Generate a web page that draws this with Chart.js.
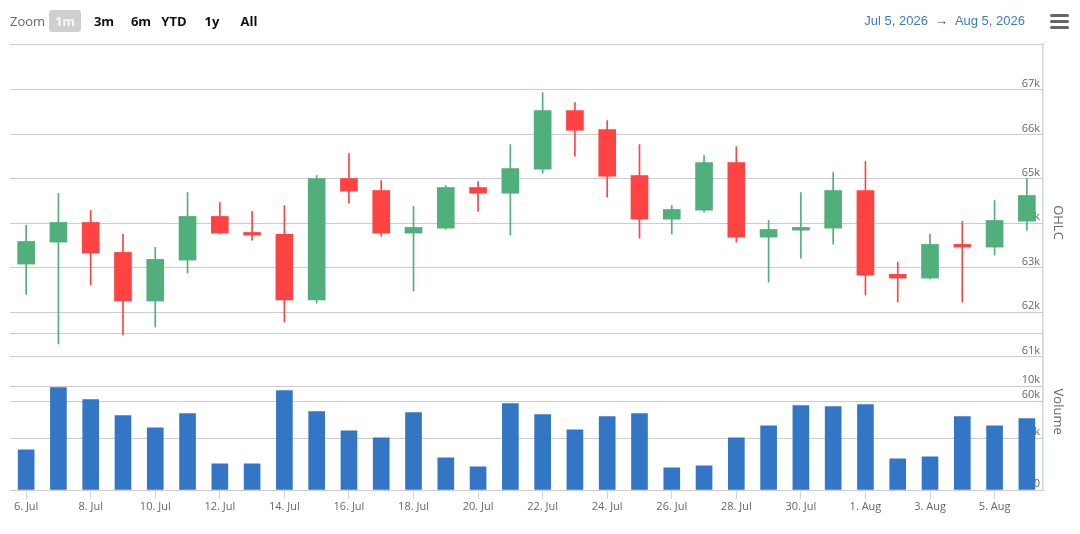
<!DOCTYPE html>
<html>
<head>
<meta charset="utf-8">
<script src="https://cdn.jsdelivr.net/npm/chart.js@4.4.1/dist/chart.umd.min.js"></script>
<style>
  body { margin: 0; background: #fff; font-family: "Open Sans", sans-serif; }
  #wrap { position: relative; width: 1080px; height: 534px; overflow: hidden; }
  #chart { position: absolute; left: 0; top: 0; }
  .tb { position: absolute; top: 0; height: 42px; line-height: 42px; font-size: 13px; white-space: nowrap; }
  #zoomLbl { left: 10px; color: #666; }
  .btn { position: absolute; top: 10px; width: 32px; height: 22px; line-height: 22px; text-align: center;
         font-size: 13px; font-weight: 700; color: #111; border-radius: 3px; }
  .btn.sel { background: #cfcfcf; color: #f8f8f8; }
  #range { right: 55px; font-family: "Liberation Sans", Arial, sans-serif; color: #3a7bd0; }
  #range .arr { color: #444; margin: 0 7px; }
  #menu { position: absolute; left: 1050px; top: 14px; width: 19px; }
  #menu div { height: 3px; background: #666; border-radius: 1.5px; margin-bottom: 3px; }
</style>
</head>
<body>
<div id="wrap">
  <canvas id="chart" width="1080" height="534"></canvas>
  <div class="tb" id="zoomLbl">Zoom</div>
  <div class="btn sel" style="left:49px">1m</div>
  <div class="btn" style="left:88px">3m</div>
  <div class="btn" style="left:125px">6m</div>
  <div class="btn" style="left:158px">YTD</div>
  <div class="btn" style="left:196px">1y</div>
  <div class="btn" style="left:233px">All</div>
  <div class="tb" id="range"><span>Jul 5, 2026</span><span class="arr">→</span><span>Aug 5, 2026</span></div>
  <div id="menu"><div></div><div></div><div></div></div>
</div>
<script>
const categories = ['6. Jul', '7. Jul', '8. Jul', '9. Jul', '10. Jul', '11. Jul', '12. Jul', '13. Jul',
  '14. Jul', '15. Jul', '16. Jul', '17. Jul', '18. Jul', '19. Jul', '20. Jul', '21. Jul', '22. Jul',
  '23. Jul', '24. Jul', '25. Jul', '26. Jul', '27. Jul', '28. Jul', '29. Jul', '30. Jul', '31. Jul',
  '1. Aug', '2. Aug', '3. Aug', '4. Aug', '5. Aug', '6. Aug'];

const opens  = [63081, 63575, 64018, 63344, 62249, 63171, 64153, 63793, 63748, 62272, 65007, 64737, 63778, 63890, 64804, 64676,
                65216, 66535, 66108, 65074, 64092, 64294, 65366, 63688, 63845, 63890, 64737, 62849, 62766, 63524, 63463, 64047];
const highs  = [63951, 64670, 64288, 63748, 63456, 64692, 64467, 64265, 64400, 65074, 65569, 64962, 64378, 64849, 64939, 65771,
                66939, 66715, 66310, 65771, 64400, 65524, 65726, 64063, 64692, 65142, 65389, 63126, 63748, 64040, 64512, 65007];
const lows   = [62400, 61283, 62609, 61485, 61665, 62879, 63760, 63620, 61778, 62204, 64452, 63710, 62474, 63867, 64265, 63733,
                65126, 65508, 64587, 63665, 63755, 64249, 63575, 62676, 63216, 63530, 62384, 62227, 62750, 62227, 63283, 63845];
const closes = [63591, 64018, 63328, 62249, 63187, 64153, 63778, 63733, 62272, 65007, 64721, 63778, 63906, 64804, 64676, 65231,
                66535, 66092, 65058, 64092, 64310, 65366, 63688, 63861, 63906, 64737, 62834, 62766, 63524, 63463, 64063, 64625];
const volumes = [3871, 9871, 8710, 7161, 6000, 7355, 2516, 2516, 9581, 7548, 5710, 5032, 7452, 3097, 2226, 8323,
                 7258, 5806, 7065, 7355, 2129, 2323, 5032, 6194, 8129, 8032, 8226, 3000, 3194, 7065, 6194, 6871];

// axis ticks (the top value of each pane only draws its border line)
const priceMin = 60000, priceMax = 68034;
const priceTicks = [60000, 61000, 62000, 63000, 64000, 65000, 66000, 67000, 68034];
const priceTickLabels = ['60k', '61k', '62k', '63k', '64k', '65k', '66k', '67k', ''];
const volumeMax = 15100;
const volumeTicks = [0, 5000, 10000, 15100];
const volumeTickLabels = ['0', '5k', '10k', ''];

const UP = '#51af7b', DOWN = '#ff4242', GRID = '#cccccc', AXIS = '#ccd6eb', TEXT = '#666666';
const candleColor = ctx => closes[ctx.dataIndex] >= opens[ctx.dataIndex] ? UP : DOWN;

Chart.defaults.font.family = '"Open Sans", sans-serif';

// Price pane and volume pane overlap a little, like the original layout
const paneLayout = {
  id: 'paneLayout',
  afterLayout(chart) {
    const area = chart.chartArea;
    const price = chart.scales.y, vol = chart.scales.vol;
    price.top = area.top;
    price.bottom = area.top + 357;
    price.height = 357;
    vol.left = price.left;
    vol.right = price.right;
    vol.width = price.width;
    vol.top = area.bottom - 156.7;
    vol.bottom = area.bottom;
    vol.height = 156.7;
    price.configure();
    vol.configure();
  }
};

new Chart(document.getElementById('chart'), {
  type: 'bar',
  data: {
    labels: categories,
    datasets: [
      {
        label: 'Body',
        data: categories.map((c, i) => [opens[i], closes[i]]),
        backgroundColor: candleColor,
        barThickness: 17,
        grouped: false,
        order: 0,
        yAxisID: 'y'
      },
      {
        label: 'Wick',
        data: categories.map((c, i) => [lows[i], highs[i]]),
        backgroundColor: candleColor,
        barThickness: 1,
        grouped: false,
        order: 1,
        yAxisID: 'y'
      },
      {
        label: 'Volume',
        data: volumes,
        backgroundColor: '#3476c6',
        barThickness: 16,
        grouped: false,
        order: 2,
        yAxisID: 'vol'
      }
    ]
  },
  options: {
    responsive: false,
    animation: false,
    layout: { padding: { top: 44, left: 10, right: 0, bottom: 0 } },
    plugins: { legend: { display: false }, tooltip: { enabled: false } },
    scales: {
      x: {
        offset: true,
        afterFit: s => { s.height = 44; },
        grid: {
          offset: false,
          drawOnChartArea: false,
          tickLength: 9,
          color: ctx => ctx.index % 2 === 0 ? AXIS : 'rgba(0,0,0,0)'
        },
        border: { color: GRID },
        ticks: {
          autoSkip: false,
          maxRotation: 0,
          padding: 1,
          color: TEXT,
          font: { size: 11 },
          callback: (v, i) => i % 2 === 0 ? categories[i] : ''
        }
      },
      y: {
        position: 'right',
        min: priceMin,
        max: priceMax,
        afterFit: s => { s.width = 37; },
        afterBuildTicks: s => { s.ticks = priceTicks.map(v => ({ value: v })); },
        grid: { color: GRID, drawTicks: false },
        border: { color: AXIS, width: 1.5 },
        ticks: {
          mirror: true,
          padding: -3,
          labelOffset: -6,
          autoSkip: false,
          color: TEXT,
          font: { size: 11 },
          callback: v => priceTickLabels[priceTicks.indexOf(v)]
        },
        title: { display: true, text: 'OHLC', color: TEXT, font: { size: 13 }, padding: { top: 14, bottom: 0 } }
      },
      vol: {
        position: 'right',
        min: 0,
        max: volumeMax,
        afterFit: s => { s.width = 0; },
        afterBuildTicks: s => { s.ticks = volumeTicks.map(v => ({ value: v })); },
        grid: { color: GRID, drawTicks: false },
        border: { color: AXIS, width: 1.5 },
        ticks: {
          mirror: true,
          padding: -3,
          labelOffset: -6,
          autoSkip: false,
          color: TEXT,
          font: { size: 11 },
          callback: v => volumeTickLabels[volumeTicks.indexOf(v)]
        },
        title: { display: true, text: 'Volume', color: TEXT, font: { size: 13 }, padding: { top: 14, bottom: 0 } }
      }
    }
  },
  plugins: [paneLayout]
});
</script>
</body>
</html>
